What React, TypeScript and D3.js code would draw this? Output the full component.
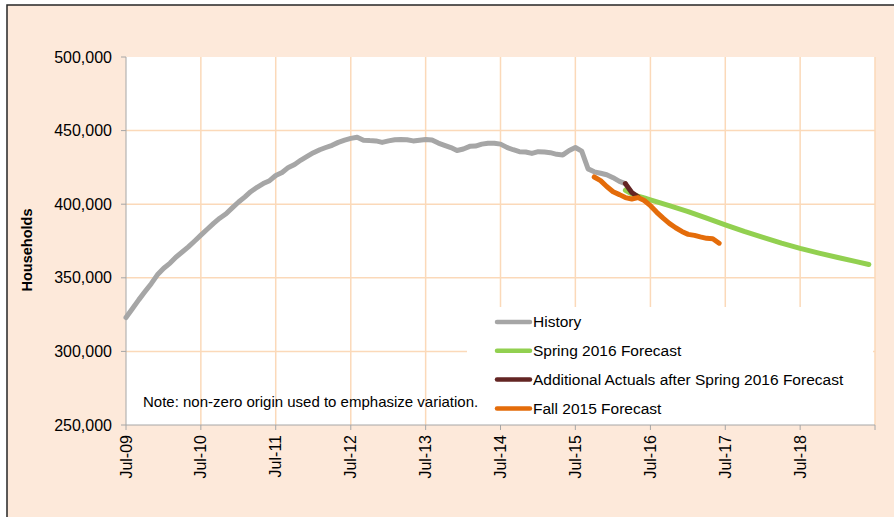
import React from 'react';
import * as d3 from 'd3';

// monthly history, Jul-09 .. Mar-16
const historyStart = '2009-07';
const historyValues = [
  323000, 329000, 335000, 340500, 346000, 352000, 356500, 360000, 364000, 367500, 371000, 375000,
  379000, 383000, 387000, 390500, 393500, 397500, 401500, 405000, 408500, 411500, 414000, 416000,
  419500, 421500, 425000, 427000, 430000, 432500, 435000, 437000, 438500, 440000, 442000, 443500,
  444700, 445500, 443500, 443200, 443000, 442000, 443000, 443800, 444000, 443800, 443000, 443500,
  444000, 443600, 441500, 440000, 438500, 436500, 437500, 439300, 439500, 440800, 441400, 441400,
  440800, 438600, 437000, 435700, 435500, 434500, 435700, 435400, 435000, 433900, 433500, 436500,
  438500, 436000, 424000, 422000, 421000, 420000, 418000, 415500, 414000,
];

const springDates = [
  '2016-03', '2016-04', '2016-05', '2016-06', '2016-07', '2016-10', '2017-01', '2017-04',
  '2017-07', '2017-10', '2018-01', '2018-04', '2018-07', '2018-10', '2019-01', '2019-04', '2019-06',
];
const springValues = [
  409500, 407000, 405500, 404200, 403000, 399000, 395000, 390500,
  386000, 381500, 377500, 373500, 370000, 366800, 363800, 361000, 359000,
];

const actualDates = ['2016-03', '2016-04', '2016-05'];
const actualValues = [414000, 408000, 405000];

// monthly, Oct-15 .. Jun-17
const fallStart = '2015-10';
const fallValues = [
  418500, 416000, 412000, 408500, 406500, 404500, 403500, 404500, 402500, 399000, 394500,
  390500, 387000, 384000, 381500, 379500, 378800, 377800, 376800, 376500, 373500,
];

const yTicks = [250000, 300000, 350000, 400000, 450000, 500000];
const xTickLabels = ['Jul-09', 'Jul-10', 'Jul-11', 'Jul-12', 'Jul-13', 'Jul-14', 'Jul-15', 'Jul-16', 'Jul-17', 'Jul-18'];

const legendItems = [
  { name: 'History', color: '#A6A6A6' },
  { name: 'Spring 2016 Forecast', color: '#92D050' },
  { name: 'Additional Actuals after Spring 2016 Forecast', color: '#632523' },
  { name: 'Fall 2015 Forecast', color: '#E46C0A' },
];

const parseMonth = d3.timeParse('%Y-%m');

const monthly = (start: string, values: number[]) => {
  const s = parseMonth(start) as Date;
  return values.map((v, i) => ({ date: d3.timeMonth.offset(s, i), value: v }));
};
const paired = (dates: string[], values: number[]) =>
  dates.map((d, i) => ({ date: parseMonth(d) as Date, value: values[i] }));

const FONT = '"Liberation Sans", Arial, sans-serif';

export default function App() {
  const left = 126;
  const right = 875;
  const top = 57;
  const bottom = 425;

  const x = d3
    .scaleTime()
    .domain([new Date(2009, 6, 1), new Date(2019, 6, 1)])
    .range([left, right]);
  const y = d3.scaleLinear().domain([250000, 500000]).range([bottom, top]);

  const line = d3
    .line<{ date: Date; value: number }>()
    .x((d) => x(d.date))
    .y((d) => y(d.value));

  const history = monthly(historyStart, historyValues);
  const spring = paired(springDates, springValues);
  const actuals = paired(actualDates, actualValues);
  const fall = monthly(fallStart, fallValues);

  const xTicks = d3.timeYear.range(new Date(2009, 0, 1), new Date(2020, 0, 1)).map((d) => new Date(d.getFullYear(), 6, 1));
  const grid = '#FBD9B9';
  const axisCol = '#A6A6A6';

  const legendX = 497;
  const legendY0 = 322;
  const legendStep = 28.8;

  return (
    <svg
      width={894}
      height={517}
      style={{ position: 'absolute', left: 0, top: 0, background: '#fff' }}
      fontFamily={FONT}
    >
      <rect x={7} y={5} width={900} height={530} fill="#FDE9DA" stroke="#262626" strokeWidth={1.5} />
      <rect x={left} y={top} width={right - left} height={bottom - top} fill="#fff" />

      {/* grid */}
      {yTicks.slice(1, -1).map((t) => (
        <line key={t} x1={left} x2={right} y1={y(t)} y2={y(t)} stroke={grid} strokeWidth={1.5} />
      ))}
      {xTicks.slice(1).map((t) => (
        <line key={+t} x1={x(t)} x2={x(t)} y1={top} y2={bottom} stroke={grid} strokeWidth={1.5} />
      ))}

      {/* legend box */}
      <rect x={467} y={307} width={406} height={bottom - 307} fill="#fff" />

      {/* axes */}
      <line x1={left} x2={left} y1={top} y2={bottom} stroke={axisCol} strokeWidth={1} />
      <line x1={left} x2={right} y1={bottom} y2={bottom} stroke={axisCol} strokeWidth={1} />
      {yTicks.map((t) => (
        <g key={t}>
          <line x1={left - 5} x2={left} y1={y(t)} y2={y(t)} stroke={axisCol} />
          <text x={112} y={y(t)} dy="0.35em" textAnchor="end" fontSize={16} fill="#000">
            {d3.format(',')(t)}
          </text>
        </g>
      ))}
      {xTicks.map((t, i) => (
        <g key={+t}>
          <line x1={x(t)} x2={x(t)} y1={bottom} y2={bottom + 5} stroke={axisCol} />
          {xTickLabels[i] && (
            <text
              transform={`translate(${x(t)},${bottom + 10}) rotate(-90)`}
              dy="0.35em"
              textAnchor="end"
              fontSize={16}
              fill="#000"
            >
              {xTickLabels[i]}
            </text>
          )}
        </g>
      ))}

      <text
        transform={`translate(32,250) rotate(-90)`}
        textAnchor="middle"
        fontSize={14.5}
        fontWeight="bold"
        fill="#000"
      >
        Households
      </text>

      {/* series */}
      <g fill="none" strokeWidth={5} strokeLinejoin="round" strokeLinecap="round">
        <path d={line(history) ?? ''} stroke={legendItems[0].color} />
        <path d={line(spring) ?? ''} stroke={legendItems[1].color} />
        <path d={line(actuals) ?? ''} stroke={legendItems[2].color} />
        <path d={line(fall) ?? ''} stroke={legendItems[3].color} />
      </g>

      <text x={143} y={407} fontSize={15} fill="#000">
        Note: non-zero origin used to emphasize variation.
      </text>

      {legendItems.map((it, i) => (
        <g key={it.name} transform={`translate(${legendX},${legendY0 + i * legendStep})`}>
          <line x1={0} x2={33} y1={0} y2={0} stroke={it.color} strokeWidth={4.5} strokeLinecap="round" />
          <text x={36} dy="0.35em" fontSize={15.5} fill="#000">
            {it.name}
          </text>
        </g>
      ))}
    </svg>
  );
}
